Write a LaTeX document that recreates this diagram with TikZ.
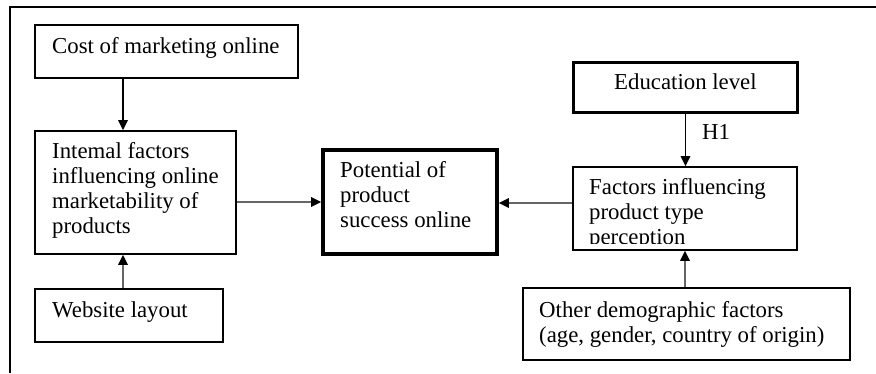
\documentclass[tikz,border=0pt]{standalone}
\usepackage{fontspec}
\setmainfont{Liberation Serif}
\usetikzlibrary{arrows.meta}
\begin{document}
\begin{tikzpicture}[x=1pt,y=-1pt,
  box/.style={draw=black, line width=1.6pt, inner sep=0pt},
  thickbox/.style={draw=black, line width=3.8pt, inner sep=0pt},
  txt/.style={anchor=north west, inner sep=0pt, align=left, font=\fontsize{22.8}{24.8}\selectfont},
  arr/.style={line width=1.6pt, -{Triangle[length=10pt,width=9.5pt,color=black]}},
  garr/.style={arr, draw=black!60}]
\useasboundingbox (0,0) rectangle (876,373);
% outer frame (top and left only)
\draw[line width=1.6pt] (10,373) -- (10,7) -- (876,7);
% boxes
\node[box, minimum width=263pt, minimum height=53pt] (cost) at (166.5,51.5) {};
\node[box, minimum width=201pt, minimum height=123pt] (internal) at (135.5,192.5) {};
\node[box, minimum width=188pt, minimum height=53pt] (website) at (129,315.5) {};
\node[thickbox, minimum width=174pt, minimum height=104pt] (potential) at (410,202) {};
\node[thickbox, minimum width=224pt, minimum height=50pt] (education) at (685.5,87.5) {};
\node[box, minimum width=224pt, minimum height=83pt] (factors) at (685,208.5) {};
\node[box, minimum width=327pt, minimum height=72pt] (other) at (686.5,324) {};
% texts
\node[txt] (costT) at (52,37.4) {Cost of marketing online};
\node[txt] (internalT) at (52,142.4) {Intemal factors\\influencing online\\marketability of\\products};
\node[txt] (websiteT) at (52,301.4) {Website layout};
\node[txt] (potentialT) at (340,161.4) {Potential of\\product\\success online};
\node[txt] (educationT) at (614,73.4) {Education level};
\node[txt] (hone) at (702,123.9) {H1};
\begin{scope}
  \clip (575,169) rectangle (795,243.5);
  \node[txt] (factorsT) at (589,178.4) {Factors influencing\\product type\\perception};
\end{scope}
\node[txt] (otherT) at (539,301.4) {Other demographic factors\\(age, gender, country of origin)};
% connectors
\coordinate (ax) at (123,0);
\coordinate (ay) at (0,202);
\coordinate (by) at (0,203);
\draw[arr] (cost.south -| ax) -- (internal.north -| ax);
\draw[garr] (website.north -| ax) -- (internal.south -| ax);
\draw[garr] (internal.east |- ay) -- (potential.west |- ay);
\draw[garr] (factors.west |- by) -- (potential.east |- by);
\draw[arr] (education.south) -- (factors.north -| education.south);
\draw[garr] (other.north -| factors.south) -- (factors.south);
\end{tikzpicture}
\end{document}
